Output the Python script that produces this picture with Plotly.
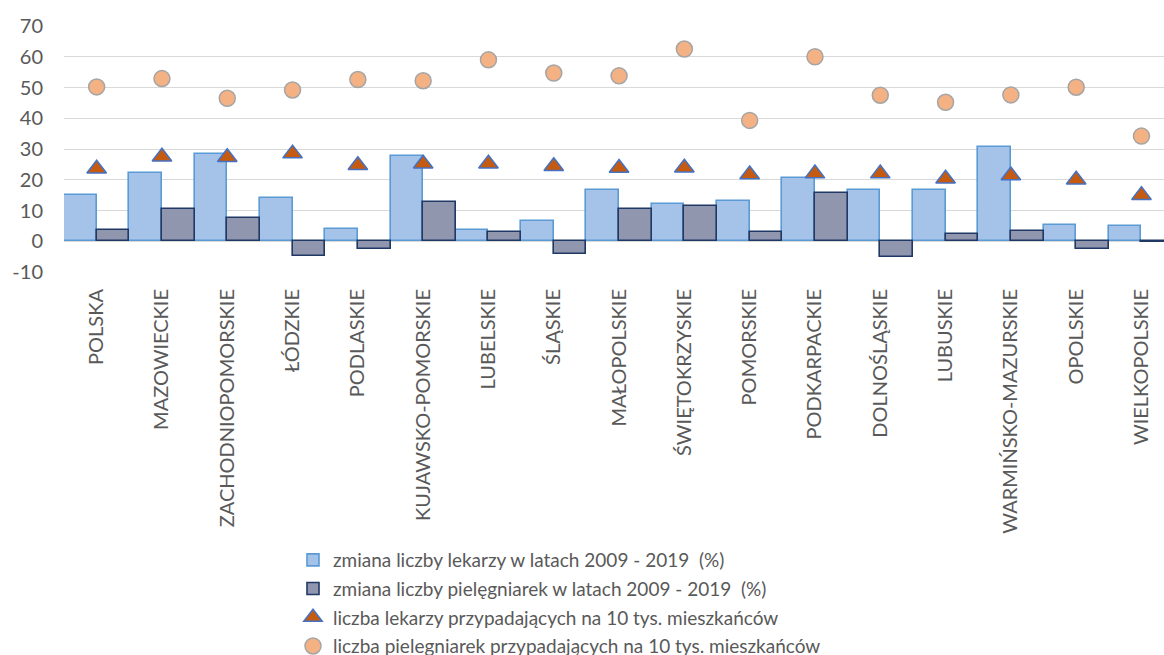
import plotly.graph_objects as go

categories = ["POLSKA", "MAZOWIECKIE", "ZACHODNIOPOMORSKIE", "ŁÓDZKIE", "PODLASKIE",
              "KUJAWSKO-POMORSKIE", "LUBELSKIE", "ŚLĄSKIE", "MAŁOPOLSKIE", "ŚWIĘTOKRZYSKIE",
              "POMORSKIE", "PODKARPACKIE", "DOLNOŚLĄSKIE", "LUBUSKIE", "WARMIŃSKO-MAZURSKIE",
              "OPOLSKIE", "WIELKOPOLSKIE"]

zmiana_lekarzy = [14.9, 22.1, 28.5, 14.2, 4.1, 27.8, 3.6, 6.5, 16.7, 12.2,
                  13.2, 20.7, 16.6, 16.6, 30.5, 5.3, 4.8]
zmiana_pielegniarek = [3.8, 10.6, 7.7, -4.8, -2.4, 12.7, 3.1, -4.2, 10.5, 11.5,
                       3.0, 15.8, -5.1, 2.3, 3.2, -2.6, -0.4]
lekarze_10tys = [23.6, 27.5, 27.3, 28.5, 24.7, 25.2, 25.2, 24.4, 23.8, 23.9,
                 21.7, 22.0, 22.0, 20.3, 21.4, 20.0, 15.0]
pielegniarki_10tys = [50.2, 52.9, 46.5, 49.2, 52.6, 52.2, 59.0, 54.7, 53.8, 62.5,
                      39.3, 60.0, 47.5, 45.2, 47.6, 50.1, 34.2]

y_ticks = [-10, 0, 10, 20, 30, 40, 50, 60, 70]
y_tick_labels = [str(v) for v in y_ticks]

names = ["zmiana liczby lekarzy w latach 2009 - 2019  (%)",
         "zmiana liczby pielęgniarek w latach 2009 - 2019  (%)",
         "liczba lekarzy przypadających na 10 tys. mieszkańców",
         "liczba pielegniarek przypadających na 10 tys. mieszkańców"]

FONT = "Lato, Calibri, Carlito, 'Open Sans', sans-serif"
GRAY = "#595959"

fig = go.Figure()
fig.add_trace(go.Bar(x=categories, y=zmiana_lekarzy, name=names[0], legendgroup="a",
                     marker=dict(color="#a5c3e9", line=dict(color="#5b9bd5", width=1.6))))
fig.add_trace(go.Bar(x=categories, y=zmiana_pielegniarek, name=names[1], legendgroup="b",
                     marker=dict(color="#9196af", line=dict(color="#203864", width=1.6))))
fig.add_trace(go.Scatter(x=categories, y=lekarze_10tys, name=names[2], mode="markers", legendgroup="c",
                         marker=dict(symbol="triangle-up", size=17, color="#c55a11",
                                     line=dict(color="#4472c4", width=1.5))))
fig.add_trace(go.Scatter(x=categories, y=pielegniarki_10tys, name=names[3], mode="markers", legendgroup="d",
                         marker=dict(symbol="circle", size=16, color="#f4b183",
                                     line=dict(color="#a5a5a5", width=1.5))))

fig.update_layout(
    width=1164, height=655,
    margin=dict(l=64, r=0, t=26, b=383, pad=0, autoexpand=False),
    paper_bgcolor="white", plot_bgcolor="white",
    barmode="group", bargap=0, bargroupgap=0,
    font=dict(family=FONT, color=GRAY, size=19),
    hovermode=False,
    legend=dict(orientation="v", xref="container", yref="container",
                x=293 / 1164, y=1 - 541 / 655, xanchor="left", yanchor="top",
                font=dict(size=19, color=GRAY, family=FONT),
                traceorder="grouped", tracegroupgap=1,
                bgcolor="rgba(0,0,0,0)"),
)
fig.update_xaxes(type="category", range=[-0.5, 16.345], tickangle=-90,
                 tickfont=dict(size=20, color=GRAY, family=FONT),
                 showgrid=False, showline=False, ticks="", ticklabelstandoff=12)
fig.update_yaxes(range=[-10, 70], tickvals=y_ticks, ticktext=y_tick_labels,
                 showgrid=True, gridcolor="#d9d9d9", gridwidth=1.3,
                 zeroline=True, zerolinecolor="#d9d9d9", zerolinewidth=1.6,
                 tickfont=dict(size=20, color=GRAY, family=FONT),
                 showline=False, ticks="", ticklabelstandoff=20)

fig.write_html("out.html", config={"displayModeBar": False},
               post_script="document.body.style.margin='0';")
